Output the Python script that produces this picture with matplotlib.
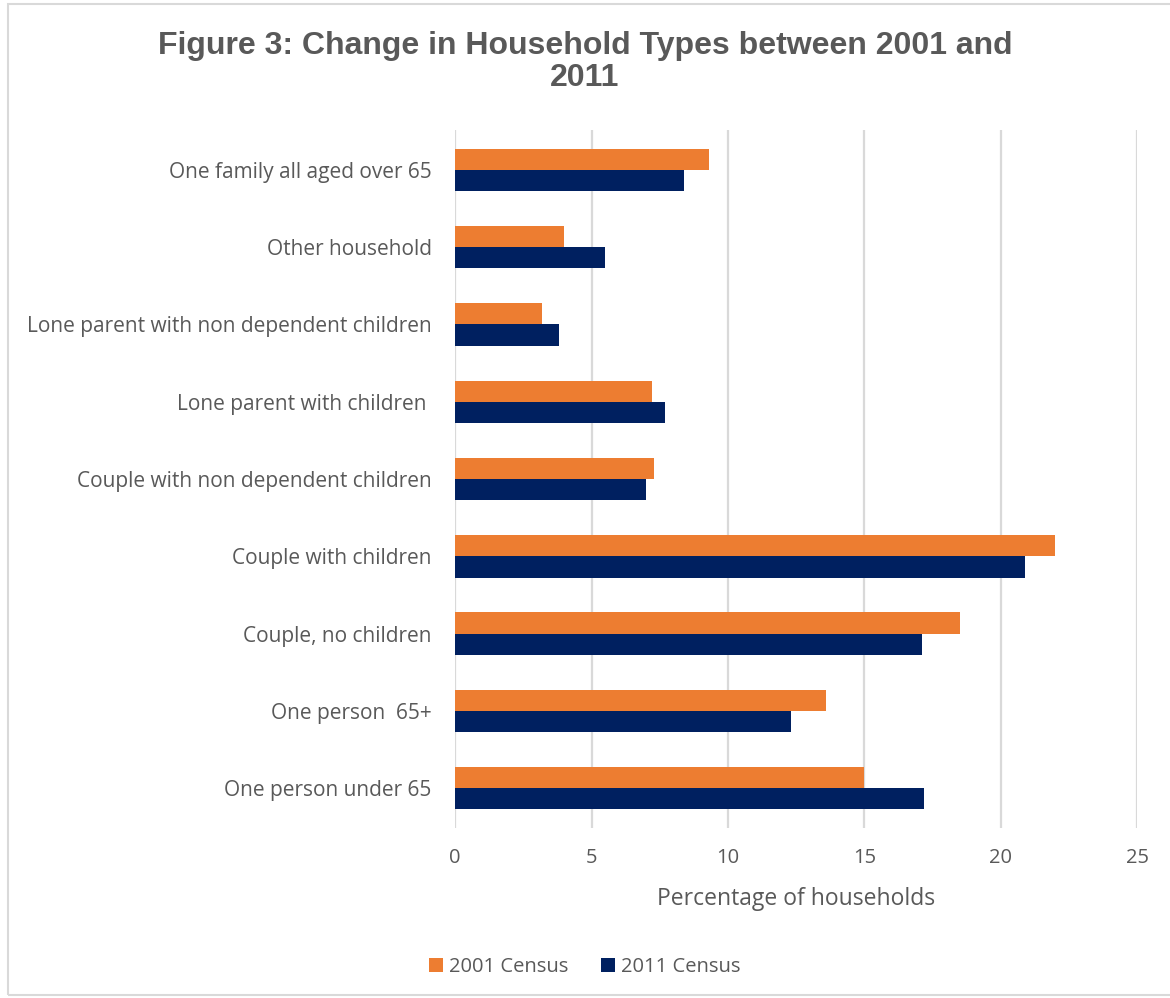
import numpy as np
import matplotlib
matplotlib.use("Agg")
import matplotlib.pyplot as plt
from matplotlib.patches import Rectangle

# household types, listed bottom to top as drawn
categories = [
    "One person under 65",
    "One person  65+",
    "Couple, no children",
    "Couple with children",
    "Couple with non dependent children",
    "Lone parent with children ",
    "Lone parent with non dependent children",
    "Other household",
    "One family all aged over 65",
]
census_2001 = [15.0, 13.6, 18.5, 22.0, 7.3, 7.2, 3.2, 4.0, 9.3]
census_2011 = [17.2, 12.3, 17.1, 20.9, 7.0, 7.7, 3.8, 5.5, 8.4]
xticks = [0, 5, 10, 15, 20, 25]

ORANGE = "#ED7D31"
NAVY = "#002060"
GREY_TXT = "#595959"
GRID = "#D9D9D9"

plt.rcParams["font.family"] = ["Open Sans", "DejaVu Sans"]

fig = plt.figure(figsize=(11.7, 9.98), dpi=100)
ax = fig.add_axes([0.389, 0.170, 0.583, 0.700])

y = np.arange(len(categories))
h = 0.275
ax.barh(y + h / 2, census_2001, height=h, color=ORANGE, label="2001 Census", zorder=3)
ax.barh(y - h / 2, census_2011, height=h, color=NAVY, label="2011 Census", zorder=3)

ax.set_xlim(0, 25)
ax.set_ylim(-0.52, 8.52)
ax.set_xticks(xticks)
ax.set_yticks(y)
ax.set_yticklabels(categories)
ax.tick_params(length=0, colors=GREY_TXT)
ax.tick_params(axis="x", pad=14, labelsize=14.5)
ax.tick_params(axis="y", pad=17, labelsize=15)
ax.grid(axis="x", color=GRID, linewidth=1.6, zorder=0)
for s in ax.spines.values():
    s.set_visible(False)
ax.set_xlabel("Percentage of households", fontsize=16.5, color=GREY_TXT, labelpad=14)

fig.text(0.5, 0.969, "Figure 3: Change in Household Types between 2001 and\n2011",
         ha="center", va="top", fontsize=23, fontweight="bold", color=GREY_TXT,
         family="Liberation Sans", linespacing=1.08)

fig.legend(loc="center", bbox_to_anchor=(0.5, 0.031), ncol=2, frameon=False,
           fontsize=14.5, labelcolor=GREY_TXT, handlelength=0.7, handleheight=0.7,
           handletextpad=0.3, columnspacing=1.6)

# thin chart-area border
fig.patches.append(Rectangle((0.007, 0.003), 1.2, 0.993, transform=fig.transFigure,
                             fill=False, edgecolor=GRID, linewidth=1.5))

fig.savefig("out.png", dpi=100)
